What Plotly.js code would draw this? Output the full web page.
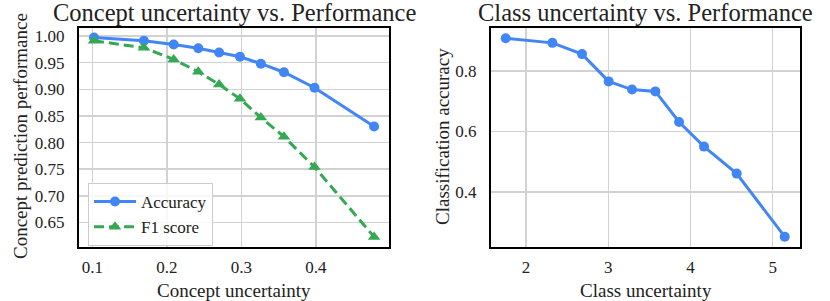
<!DOCTYPE html>
<html>
<head>
<meta charset="utf-8">
<script src="https://cdn.plot.ly/plotly-3.0.1.min.js"></script>
<style>
  html, body { margin: 0; padding: 0; background: #fff; }
  #chart { width: 830px; height: 301px; }
</style>
</head>
<body>
<div id="chart"></div>
<script>
// Left panel: concept uncertainty vs concept prediction performance
const conceptUncertainty = [0.102, 0.169, 0.209, 0.242, 0.270, 0.298, 0.326, 0.357, 0.398, 0.478];
const conceptAccuracy = [0.997, 0.991, 0.984, 0.977, 0.969, 0.961, 0.948, 0.932, 0.903, 0.830];
const conceptF1 = [0.991, 0.978, 0.956, 0.933, 0.909, 0.882, 0.847, 0.811, 0.754, 0.623];

// Right panel: class uncertainty vs classification accuracy
const classUncertainty = [1.753, 2.320, 2.681, 3.005, 3.289, 3.573, 3.861, 4.165, 4.562, 5.146];
const classAccuracy = [0.907, 0.892, 0.855, 0.765, 0.738, 0.732, 0.631, 0.550, 0.461, 0.253];

const BLUE = '#4285F4';
const GREEN = '#34A853';
const FONT = 'Liberation Serif, Times New Roman, serif';

const traces = [
  {
    x: conceptUncertainty, y: conceptAccuracy,
    type: 'scatter', mode: 'lines+markers', name: 'Accuracy',
    line: { color: BLUE, width: 3 },
    marker: { color: BLUE, size: 10, symbol: 'circle' },
    xaxis: 'x', yaxis: 'y'
  },
  {
    x: conceptUncertainty, y: conceptF1,
    type: 'scatter', mode: 'lines+markers', name: 'F1 score',
    line: { color: GREEN, width: 3, dash: '10px,5px' },
    marker: { color: GREEN, size: 11, symbol: 'triangle-up' },
    xaxis: 'x', yaxis: 'y'
  },
  {
    x: classUncertainty, y: classAccuracy,
    type: 'scatter', mode: 'lines+markers', name: 'Class accuracy',
    line: { color: BLUE, width: 3 },
    marker: { color: BLUE, size: 10, symbol: 'circle' },
    showlegend: false,
    xaxis: 'x2', yaxis: 'y2'
  }
];

const axisBase = {
  showline: true, mirror: true, linecolor: '#000', linewidth: 2,
  showgrid: true, gridcolor: '#d2d2d2', gridwidth: 1.5,
  zeroline: false, ticks: '', fixedrange: true,
  tickfont: { family: FONT, size: 17, color: '#222' }
};

const W = 830, H = 301;
const px = v => v / W;
const py = v => (H - v) / H;
const titleFont = { family: FONT, size: 24.5, color: '#222' };
const labelFont = { family: FONT, size: 19, color: '#222' };

const layout = {
  width: W, height: H,
  margin: { l: 0, r: 0, t: 0, b: 0 },
  paper_bgcolor: '#fff', plot_bgcolor: '#fff',
  font: { family: FONT, color: '#222' },
  showlegend: true,
  legend: {
    x: px(88), y: py(183), xanchor: 'left', yanchor: 'top',
    bgcolor: 'rgba(255,255,255,0.85)', bordercolor: '#cccccc', borderwidth: 1,
    font: { family: FONT, size: 17, color: '#222' },
    itemwidth: 42,
    tracegroupgap: 0
  },
  xaxis: Object.assign({}, axisBase, {
    domain: [px(79), px(389)], range: [0.0819, 0.498],
    dtick: 0.1, tick0: 0, tickformat: '.1f', anchor: 'y',
    ticklabelstandoff: 4
  }),
  yaxis: Object.assign({}, axisBase, {
    domain: [py(247), py(28)], range: [0.604, 1.015],
    dtick: 0.05, tick0: 0, tickformat: '.2f', anchor: 'x',
    ticklabelstandoff: 9
  }),
  xaxis2: Object.assign({}, axisBase, {
    domain: [px(491), px(800)], range: [1.574, 5.332],
    dtick: 1, tick0: 0, anchor: 'y2',
    ticklabelstandoff: 4
  }),
  yaxis2: Object.assign({}, axisBase, {
    domain: [py(247), py(28)], range: [0.219, 0.941],
    dtick: 0.2, tick0: 0, tickformat: '.1f', anchor: 'x2',
    ticklabelstandoff: 9
  }),
  annotations: [
    { text: 'Concept uncertainty vs. Performance', x: px(234), y: py(13), xref: 'paper', yref: 'paper',
      xanchor: 'center', yanchor: 'middle', showarrow: false, font: titleFont },
    { text: 'Class uncertainty vs. Performance', x: px(645.5), y: py(13), xref: 'paper', yref: 'paper',
      xanchor: 'center', yanchor: 'middle', showarrow: false, font: titleFont },
    { text: 'Concept uncertainty', x: px(234), y: py(290), xref: 'paper', yref: 'paper',
      xanchor: 'center', yanchor: 'middle', showarrow: false, font: labelFont },
    { text: 'Class uncertainty', x: px(645.5), y: py(290), xref: 'paper', yref: 'paper',
      xanchor: 'center', yanchor: 'middle', showarrow: false, font: labelFont },
    { text: 'Concept prediction performance', x: px(20), y: py(136), xref: 'paper', yref: 'paper',
      xanchor: 'center', yanchor: 'middle', textangle: -90, showarrow: false, font: labelFont },
    { text: 'Classification accuracy', x: px(442), y: py(137), xref: 'paper', yref: 'paper',
      xanchor: 'center', yanchor: 'middle', textangle: -90, showarrow: false, font: labelFont }
  ]
};

Plotly.newPlot('chart', traces, layout, { staticPlot: true, displayModeBar: false });
</script>
</body>
</html>
